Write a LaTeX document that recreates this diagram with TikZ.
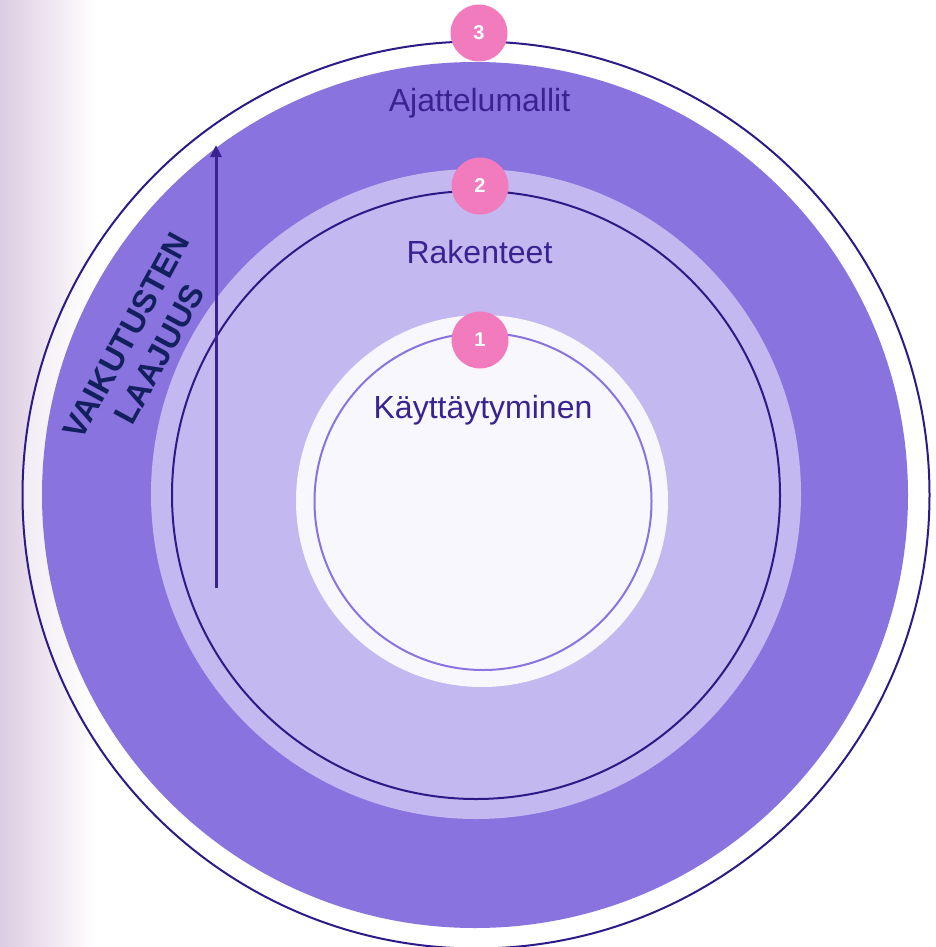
\documentclass[tikz,border=0pt]{standalone}
\usepackage{fontspec}
\setmainfont{Liberation Sans}
\usetikzlibrary{arrows.meta}
\definecolor{bigpurple}{HTML}{8873DF}
\definecolor{lavender}{HTML}{C3B8EF}
\definecolor{innerwhite}{HTML}{F8F7FD}
\definecolor{darkline}{HTML}{2E1A87}
\definecolor{midline}{HTML}{8A73E0}
\definecolor{badgepink}{HTML}{F27BBD}
\definecolor{labeltext}{HTML}{3A2391}
\definecolor{axistext}{HTML}{13205E}
\definecolor{stripcol}{HTML}{DCCCE2}
\tikzset{
  ringlabel/.style={anchor=base, text=labeltext, font=\fontsize{32}{36}\selectfont, inner sep=0pt},
  badge/.style={circle, fill=badgepink, minimum size=57pt, inner sep=0pt, text=white, font=\fontsize{20}{22}\selectfont\bfseries},
  thinring/.style={draw=darkline, line width=2pt},
}
\begin{document}
\begin{tikzpicture}[x=1pt,y=-1pt]
\useasboundingbox (0,0) rectangle (935,947);
% left gradient strip
\shade[left color=stripcol, right color=white] (0,0) rectangle (96,947);
% outer disk and thin circle
\fill[white, fill opacity=0.5] (476,495) circle[radius=453.5];
\draw[thinring] (476,495) circle[radius=453.5];
% big purple disk
\fill[bigpurple] (475,495) circle[radius=433];
% lavender disk
\fill[lavender] (476,494) circle[radius=325];
\draw[thinring] (476,495) circle[radius=304];
% inner white disk
\fill[innerwhite] (482,501) circle[radius=186];
\draw[draw=midline, line width=2pt] (483,501.5) circle[radius=168.5];
% arrow
\coordinate (arrowstart) at (216,588);
\coordinate (arrowend) at (216,145);
\draw[draw=labeltext, line width=3pt, -{Triangle[length=12pt,width=11pt]}] (arrowstart) -- (arrowend);
% badges
\node[badge] (b3) at (479,33) {3};
\node[badge] (b2) at (480,186) {2};
\node[badge] (b1) at (480,340) {1};
% labels
\node[ringlabel] (l3) at (479.5,112) {Ajattelumallit};
\node[ringlabel] (l2) at (479.5,263) {Rakenteet};
\node[ringlabel] (l1) at (483,418) {Käyttäytyminen};
\node[rotate=61.5, align=center, text=axistext, font=\fontsize{32.5}{38}\selectfont\bfseries, inner sep=0pt] (axis) at (143,345) {VAIKUTUSTEN\\LAAJUUS};
\end{tikzpicture}
\end{document}
